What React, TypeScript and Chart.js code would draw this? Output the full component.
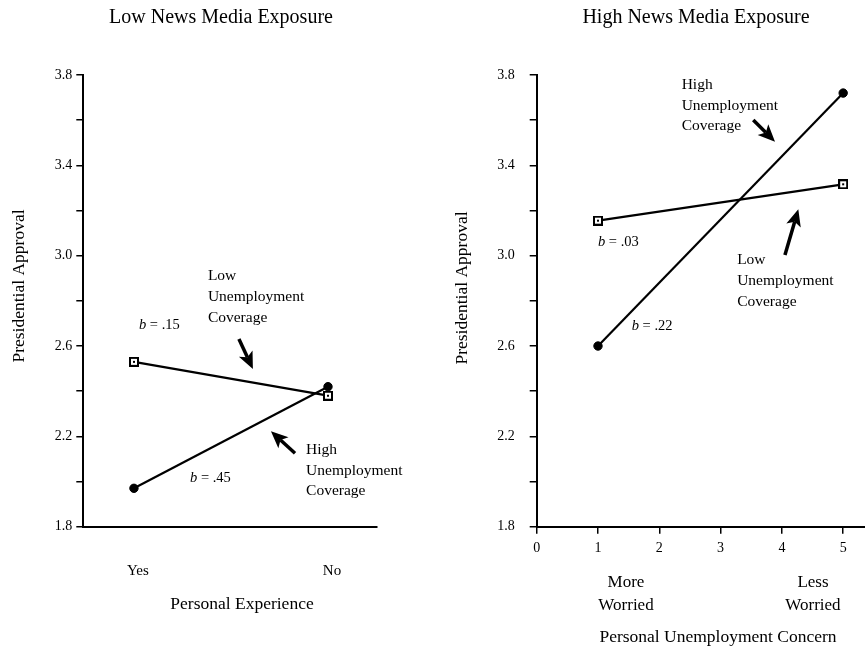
import { useEffect, useRef } from 'react';
import { Chart, registerables } from 'chart.js';

Chart.register(...registerables);

const FONT = '"Liberation Serif", "Times New Roman", serif';

// ---------- data ----------
// Left panel: Low News Media Exposure
const experienceCategories = ['Yes', 'No'];
const lowExposureLowCoverage = [2.53, 2.38];
const lowExposureHighCoverage = [1.97, 2.42];

// Right panel: High News Media Exposure
const concernLevels = [1, 5];
const highExposureLowCoverage = [3.155, 3.316];
const highExposureHighCoverage = [2.6, 3.72];
const concernTicks = [0, 1, 2, 3, 4, 5];

// Shared y axis
const approvalTickValues = [1.8, 2.0, 2.2, 2.4, 2.6, 2.8, 3.0, 3.2, 3.4, 3.6, 3.8];
const approvalLabels = ['1.8', '2.2', '2.6', '3.0', '3.4', '3.8'];

// ---------- annotations (data coordinates) ----------
type Note = { lines: string[]; x: number; y: number };
type Slope = { b: string; x: number; y: number };
type Arrow = { from: [number, number]; to: [number, number] };

const leftNotes: Note[] = [
  { lines: ['Low', 'Unemployment', 'Coverage'], x: 0.381, y: 2.909 },
  { lines: ['High', 'Unemployment', 'Coverage'], x: 0.887, y: 2.14 },
];
const leftSlopes: Slope[] = [
  { b: '.15', x: 0.026, y: 2.693 },
  { b: '.45', x: 0.289, y: 2.016 },
];
const leftArrows: Arrow[] = [
  { from: [0.541, 2.631], to: [0.613, 2.498] },
  { from: [0.83, 2.125], to: [0.706, 2.223] },
];

const rightNotes: Note[] = [
  { lines: ['High', 'Unemployment', 'Coverage'], x: 2.365, y: 3.756 },
  { lines: ['Low', 'Unemployment', 'Coverage'], x: 3.27, y: 2.98 },
];
const rightSlopes: Slope[] = [
  { b: '.03', x: 1.0, y: 3.058 },
  { b: '.22', x: 1.55, y: 2.686 },
];
const rightArrows: Arrow[] = [
  { from: [3.533, 3.601], to: [3.888, 3.505] },
  { from: [4.05, 3.003], to: [4.268, 3.206] },
];
const concernEndLabels = [
  { lines: ['More', 'Worried'], x: 1.457 },
  { lines: ['Less', 'Worried'], x: 4.507 },
];

// ---------- helpers ----------
function squareSymbol(): HTMLCanvasElement {
  const c = document.createElement('canvas');
  c.width = 10;
  c.height = 10;
  const g = c.getContext('2d')!;
  g.fillStyle = '#fff';
  g.fillRect(0, 0, 10, 10);
  g.strokeStyle = '#000';
  g.lineWidth = 2;
  g.strokeRect(1, 1, 8, 8);
  g.fillStyle = '#000';
  g.fillRect(4, 4, 2, 2);
  return c;
}

function drawArrow(ctx: CanvasRenderingContext2D, x1: number, y1: number, x2: number, y2: number) {
  const ang = Math.atan2(y2 - y1, x2 - x1);
  const headLen = 17;
  const headW = 7.5;
  const bx = x2 - Math.cos(ang) * headLen;
  const by = y2 - Math.sin(ang) * headLen;
  ctx.save();
  ctx.strokeStyle = '#000';
  ctx.fillStyle = '#000';
  ctx.lineWidth = 3.5;
  ctx.beginPath();
  ctx.moveTo(x1, y1);
  ctx.lineTo(bx + Math.cos(ang) * 4, by + Math.sin(ang) * 4);
  ctx.stroke();
  ctx.beginPath();
  ctx.moveTo(x2, y2);
  ctx.lineTo(bx + Math.cos(ang + Math.PI / 2) * headW, by + Math.sin(ang + Math.PI / 2) * headW);
  ctx.lineTo(bx + Math.cos(ang) * 4, by + Math.sin(ang) * 4);
  ctx.lineTo(bx + Math.cos(ang - Math.PI / 2) * headW, by + Math.sin(ang - Math.PI / 2) * headW);
  ctx.closePath();
  ctx.fill();
  ctx.restore();
}

type PanelSpec = {
  left: number;
  width: number;
  padRight: number;
  title: string;
  titleX: number;
  yTitleX: number;
  yTitleY: number;
  xTitle: string;
  xTitleX: number;
  xTitleY: number;
  yAxisWidth: number;
  yTickPadding: number;
  xMin: number;
  xMax: number;
  xTickValues: number[];
  xTickLabel: (v: number) => string;
  xDrawTicks: boolean;
  xTickPadding: number;
  xTickFontSize: number;
  xLabelOffset: number;
  xs: number[];
  lowCoverage: number[];
  highCoverage: number[];
  notes: Note[];
  slopes: Slope[];
  arrows: Arrow[];
  endLabels: { lines: string[]; x: number }[];
};

function makeNotesPlugin(spec: PanelSpec) {
  return {
    id: 'panelNotes',
    afterDatasetsDraw(chart: any) {
      const ctx: CanvasRenderingContext2D = chart.ctx;
      const xs = chart.scales.x;
      const ys = chart.scales.y;
      const area = chart.chartArea;
      ctx.save();
      ctx.fillStyle = '#000';

      // panel title
      ctx.font = `20px ${FONT}`;
      ctx.textAlign = 'center';
      ctx.textBaseline = 'alphabetic';
      ctx.fillText(spec.title, spec.titleX, 23);

      // y axis title
      ctx.save();
      ctx.translate(spec.yTitleX, spec.yTitleY);
      ctx.rotate(-Math.PI / 2);
      ctx.font = `17.5px ${FONT}`;
      ctx.textAlign = 'center';
      ctx.textBaseline = 'middle';
      ctx.fillText('Presidential Approval', 0, 0);
      ctx.restore();

      // x axis title
      ctx.font = `17.5px ${FONT}`;
      ctx.textAlign = 'center';
      ctx.textBaseline = 'alphabetic';
      ctx.fillText(spec.xTitle, spec.xTitleX, spec.xTitleY);

      // end labels under x axis
      ctx.font = `17px ${FONT}`;
      ctx.textBaseline = 'middle';
      spec.endLabels.forEach((lab) => {
        const px = xs.getPixelForValue(lab.x);
        lab.lines.forEach((ln, i) => ctx.fillText(ln, px, area.bottom + 56 + i * 22.5));
      });

      // notes
      ctx.font = `15.5px ${FONT}`;
      ctx.textAlign = 'left';
      ctx.textBaseline = 'middle';
      spec.notes.forEach((n) => {
        const px = xs.getPixelForValue(n.x);
        const py = ys.getPixelForValue(n.y);
        n.lines.forEach((ln, i) => ctx.fillText(ln, px, py + i * 20.7));
      });

      // slopes
      spec.slopes.forEach((s) => {
        const px = xs.getPixelForValue(s.x);
        const py = ys.getPixelForValue(s.y);
        ctx.font = `italic 14.5px ${FONT}`;
        ctx.fillText('b', px, py);
        const w = ctx.measureText('b').width;
        ctx.font = `14.5px ${FONT}`;
        ctx.fillText(` = ${s.b}`, px + w, py);
      });

      // arrows
      spec.arrows.forEach((a) => {
        drawArrow(
          ctx,
          xs.getPixelForValue(a.from[0]),
          ys.getPixelForValue(a.from[1]),
          xs.getPixelForValue(a.to[0]),
          ys.getPixelForValue(a.to[1])
        );
      });
      ctx.restore();
    },
  };
}

function Panel({ spec }: { spec: PanelSpec }) {
  const ref = useRef<HTMLCanvasElement | null>(null);
  useEffect(() => {
    if (!ref.current) return;
    const square = squareSymbol();
    const chart = new Chart(ref.current, {
      type: 'line',
      data: {
        datasets: [
          {
            label: 'Low Unemployment Coverage',
            data: spec.xs.map((x, i) => ({ x, y: spec.lowCoverage[i] })),
            borderColor: '#000',
            borderWidth: 2.2,
            pointStyle: square as any,
            pointRadius: 5,
            backgroundColor: '#fff',
          },
          {
            label: 'High Unemployment Coverage',
            data: spec.xs.map((x, i) => ({ x, y: spec.highCoverage[i] })),
            borderColor: '#000',
            borderWidth: 2.2,
            pointStyle: 'circle',
            pointRadius: 4.2,
            pointBackgroundColor: '#000',
            pointBorderColor: '#000',
            pointBorderWidth: 1,
          },
        ],
      },
      options: {
        animation: false,
        responsive: false,
        events: [],
        layout: {
          autoPadding: false,
          padding: { top: 75, left: 0, right: spec.padRight, bottom: 0 },
        },
        plugins: {
          legend: { display: false },
          title: { display: false },
          tooltip: { enabled: false },
        },
        scales: {
          x: {
            type: 'linear',
            min: spec.xMin,
            max: spec.xMax,
            afterBuildTicks: (scale: any) => {
              scale.ticks = spec.xTickValues.map((v) => ({ value: v }));
            },
            afterFit: (scale: any) => {
              scale.height = 648 - 526.7;
              scale.paddingLeft = 0;
              scale.paddingRight = 0;
            },
            ticks: {
              color: '#000',
              padding: spec.xTickPadding,
              labelOffset: spec.xLabelOffset,
              font: { family: FONT, size: spec.xTickFontSize },
              maxRotation: 0,
              autoSkip: false,
              callback: (v: any) => spec.xTickLabel(Number(v)),
            },
            grid: {
              drawOnChartArea: false,
              drawTicks: spec.xDrawTicks,
              tickLength: 7,
              color: '#000',
              lineWidth: 1.5,
            },
            border: { display: true, color: '#000', width: 2 },
          },
          y: {
            type: 'linear',
            min: 1.8,
            max: 3.8,
            afterBuildTicks: (scale: any) => {
              scale.ticks = approvalTickValues.map((v) => ({ value: v }));
            },
            afterFit: (scale: any) => {
              scale.width = spec.yAxisWidth;
            },
            ticks: {
              color: '#000',
              padding: spec.yTickPadding,
              font: { family: FONT, size: 14 },
              autoSkip: false,
              callback: (v: any) => {
                const s = Number(v).toFixed(1);
                return approvalLabels.includes(s) ? s : '';
              },
            },
            grid: {
              drawOnChartArea: false,
              drawTicks: true,
              tickLength: 7,
              color: '#000',
              lineWidth: 1.5,
            },
            border: { display: true, color: '#000', width: 2 },
          },
        },
      },
      plugins: [makeNotesPlugin(spec)],
    } as any);
    return () => chart.destroy();
  }, [spec]);
  return (
    <canvas
      ref={ref}
      width={spec.width}
      height={648}
      style={{ position: 'absolute', left: spec.left, top: 0, width: spec.width, height: 648 }}
    />
  );
}

const leftSpec: PanelSpec = {
  left: 0,
  width: 432,
  padRight: 55.3,
  title: 'Low News Media Exposure',
  titleX: 221,
  yTitleX: 19,
  yTitleY: 286,
  xTitle: 'Personal Experience',
  xTitleX: 242,
  xTitleY: 609,
  yAxisWidth: 83.3,
  yTickPadding: 4,
  xMin: -0.261,
  xMax: 1.251,
  xTickValues: [0, 1],
  xTickLabel: (v) => experienceCategories[v] ?? '',
  xDrawTicks: false,
  xTickPadding: 35,
  xTickFontSize: 15,
  xLabelOffset: 4,
  xs: [0, 1],
  lowCoverage: lowExposureLowCoverage,
  highCoverage: lowExposureHighCoverage,
  notes: leftNotes,
  slopes: leftSlopes,
  arrows: leftArrows,
  endLabels: [],
};

const rightSpec: PanelSpec = {
  left: 432,
  width: 433,
  padRight: 0,
  title: 'High News Media Exposure',
  titleX: 264,
  yTitleX: 30,
  yTitleY: 288,
  xTitle: 'Personal Unemployment Concern',
  xTitleX: 286,
  xTitleY: 642,
  yAxisWidth: 104.7,
  yTickPadding: 15,
  xMin: 0,
  xMax: 5.356,
  xTickValues: concernTicks,
  xTickLabel: (v) => String(v),
  xDrawTicks: true,
  xTickPadding: 6,
  xTickFontSize: 14,
  xLabelOffset: 0,
  xs: concernLevels,
  lowCoverage: highExposureLowCoverage,
  highCoverage: highExposureHighCoverage,
  notes: rightNotes,
  slopes: rightSlopes,
  arrows: rightArrows,
  endLabels: concernEndLabels,
};

export default function App() {
  return (
    <div
      style={{
        position: 'fixed',
        left: 0,
        top: 0,
        width: 865,
        height: 648,
        overflow: 'hidden',
        background: '#fff',
      }}
    >
      <Panel spec={leftSpec} />
      <Panel spec={rightSpec} />
    </div>
  );
}
